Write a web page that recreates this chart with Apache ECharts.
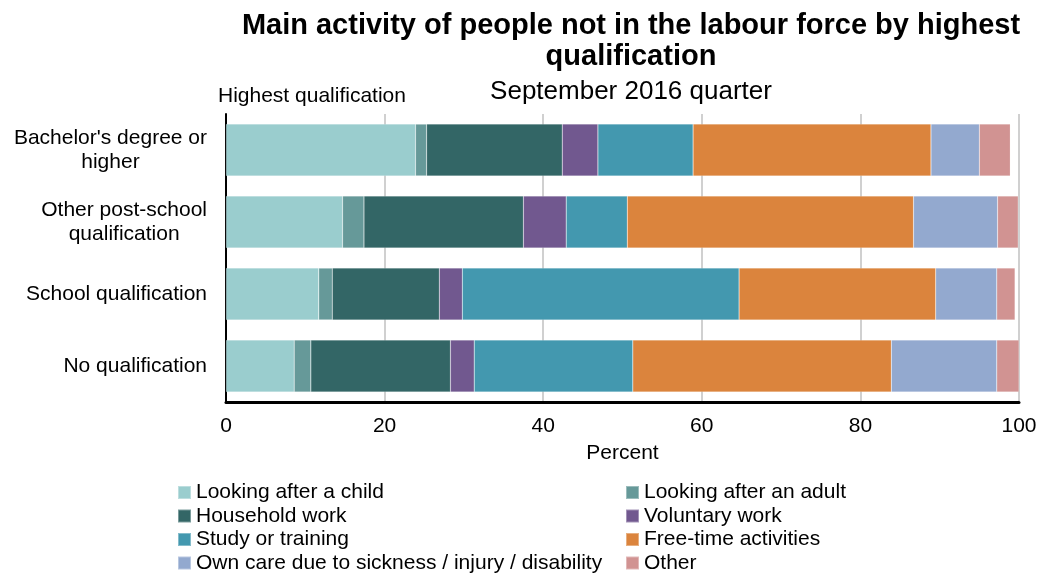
<!DOCTYPE html>
<html><head><meta charset="utf-8">
<script src="https://cdn.jsdelivr.net/npm/echarts@6/dist/echarts.min.js"></script>
<style>html,body{margin:0;padding:0;background:#fff}#c{width:1046px;height:576px}</style>
</head><body><div id="c"></div>
<script>
var categories = ["Bachelor's degree or\nhigher", "Other post-school\nqualification", "School qualification", "No qualification"];
var seriesNames = ["Looking after a child", "Looking after an adult", "Household work", "Voluntary work", "Study or training", "Free-time activities", "Own care due to sickness / injury / disability", "Other"];
var colors = ["#9ACDCE", "#669999", "#336666", "#71588F", "#4398AF", "#DB843D", "#93A9CF", "#D19392"];
var childCare = [23.9, 14.7, 11.7, 8.6];
var adultCare = [1.4, 2.7, 1.7, 2.1];
var household = [17.1, 20.1, 13.5, 17.6];
var voluntary = [4.5, 5.4, 2.9, 3.0];
var study = [12.0, 7.7, 34.9, 20.0];
var freeTime = [30.0, 36.1, 24.8, 32.6];
var ownCare = [6.1, 10.6, 7.7, 13.3];
var other = [3.9, 2.6, 2.3, 2.8];
var xTicks = [0, 20, 40, 60, 80, 100];

var values = [childCare, adultCare, household, voluntary, study, freeTime, ownCare, other];
var FONT = '"Liberation Sans", Arial, sans-serif';

var chart = echarts.init(document.getElementById('c'), null, {renderer: 'canvas'});
var series = seriesNames.map(function (n, i) {
  return {
    name: n, type: 'bar', stack: 'total', data: values[i],
    barCategoryGap: '28%',
    itemStyle: {color: colors[i], borderColor: 'rgba(255,255,255,0.35)', borderWidth: 0.5},
    emphasis: {disabled: true}
  };
});
var legendText = {fontFamily: FONT, fontSize: 21, color: '#000', lineHeight: 21};
chart.setOption({
  animation: false,
  textStyle: {fontFamily: FONT},
  title: {
    text: 'Main activity of people not in the labour force by highest\nqualification',
    subtext: 'September 2016 quarter',
    left: 626, top: 5, textAlign: 'center', itemGap: 6,
    textStyle: {fontFamily: FONT, fontSize: 29, fontWeight: 'bold', color: '#000', lineHeight: 31},
    subtextStyle: {fontFamily: FONT, fontSize: 26, color: '#000', lineHeight: 28}
  },
  legend: [
    {data: [seriesNames[0], seriesNames[2], seriesNames[4], seriesNames[6]], orient: 'vertical',
     left: 177, top: 482, height: 160, width: 440, padding: 0, itemWidth: 13, itemHeight: 13, itemGap: 2.5,
     textStyle: legendText, icon: 'rect', selectedMode: false},
    {data: [seriesNames[1], seriesNames[3], seriesNames[5], seriesNames[7]], orient: 'vertical',
     left: 625, top: 482, height: 160, width: 300, padding: 0, itemWidth: 13, itemHeight: 13, itemGap: 2.5,
     textStyle: legendText, icon: 'rect', selectedMode: false}
  ],
  grid: {left: 226, right: 27, top: 114, height: 288, containLabel: false},
  xAxis: {
    type: 'value', min: 0, max: 100, interval: 20,
    name: 'Percent', nameLocation: 'middle', nameGap: 41,
    nameTextStyle: {fontFamily: FONT, fontSize: 21, color: '#000'},
    axisLine: {show: true, lineStyle: {color: '#000', width: 3}},
    axisTick: {show: false},
    axisLabel: {fontFamily: FONT, fontSize: 21, color: '#000', margin: 14,
      formatter: function (v) { return xTicks.indexOf(v) >= 0 ? String(v) : ''; }},
    splitLine: {show: true, lineStyle: {color: '#D0D0D0', width: 2}}
  },
  yAxis: {
    type: 'category', data: categories, inverse: true,
    name: 'Highest qualification', nameLocation: 'start', nameGap: 7,
    nameTextStyle: {fontFamily: FONT, fontSize: 21, color: '#000', align: 'left', padding: [0, 0, 0, -8]},
    axisLine: {show: true, lineStyle: {color: '#000', width: 2}},
    axisTick: {show: false},
    axisLabel: {margin: 19, align: 'right',
      formatter: function (v) { return v.split('\n').map(function (s) { return '{a|' + s + '}'; }).join('\n'); },
      rich: {a: {fontFamily: FONT, fontSize: 21, color: '#000', align: 'center', lineHeight: 24}}}
  },
  series: series
});
</script></body></html>
